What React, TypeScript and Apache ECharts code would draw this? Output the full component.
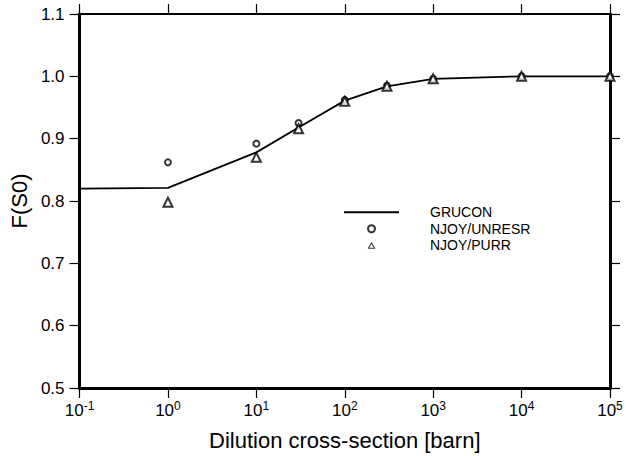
import React, { useEffect, useRef } from "react";
import * as echarts from "echarts";

const xGrucon = [0.1, 1, 10, 30, 100, 300, 1000, 10000, 100000];
const yGrucon = [0.82, 0.821, 0.878, 0.918, 0.961, 0.984, 0.996, 1.0, 1.0];
const xNjoy = [1, 10, 30, 100, 300, 1000, 10000, 100000];
const yUnresr = [0.862, 0.892, 0.925, 0.962, 0.985, 0.996, 1.0, 1.0];
const yPurr = [0.798, 0.870, 0.916, 0.960, 0.984, 0.996, 1.0, 1.0];
const yTicks = [0.5, 0.6, 0.7, 0.8, 0.9, 1.0, 1.1];
const legendNames = ["GRUCON", "NJOY/UNRESR", "NJOY/PURR"];

const FONT = "'Liberation Sans', Arial, sans-serif";

export default function App() {
  const ref = useRef<HTMLDivElement>(null);
  useEffect(() => {
    if (!ref.current) return;
    const chart = echarts.init(ref.current, null, { renderer: "svg" });
    const pow = (v: number) => Math.round(Math.log10(v));
    const xLabel = {
      show: true,
      margin: 12,
      color: "#000",
      fontFamily: FONT,
      fontSize: 17,
      formatter: (v: number) => `{b|10}{s|${pow(v)}}`,
      rich: {
        b: { fontSize: 17, fontFamily: FONT, color: "#000" },
        s: { fontSize: 12, fontFamily: FONT, color: "#000", padding: [0, 0, 9, 0] },
      },
    };
    const tick = { show: true, inside: false, length: 10, lineStyle: { color: "#000", width: 1.2 } };
    const option: any = {
      animation: false,
      backgroundColor: "#fff",
      textStyle: { fontFamily: FONT },
      grid: { left: 79, right: 16, top: 14, bottom: 65 },
      legend: {
        orient: "vertical",
        left: 344,
        top: 204,
        padding: 0,
        itemWidth: 55,
        itemHeight: 7,
        itemGap: 0,
        selectedMode: false,
        data: [
          { name: legendNames[0], icon: "path://M0,0H55V2H0Z", itemStyle: { color: "#000" } },
          { name: legendNames[1] },
          {
            name: legendNames[2],
            icon: "path://M5,0L10,9L0,9Z M5,2.68L2.2,7.7L7.8,7.7Z",
            itemStyle: { color: "#000", borderWidth: 0 },
          },
        ],
        textStyle: { fontSize: 14, color: "#000", fontFamily: FONT, padding: [0, 0, 0, 26], lineHeight: 16.5 },
      },
      xAxis: [
        {
          type: "log",
          logBase: 10,
          min: 0.1,
          max: 100000,
          position: "bottom",
          name: "Dilution cross-section [barn]",
          nameLocation: "middle",
          nameGap: 41,
          nameTextStyle: { fontSize: 22, color: "#000", fontFamily: FONT },
          axisLine: { show: true, lineStyle: { color: "#000", width: 3 } },
          axisTick: tick,
          minorTick: { show: false },
          splitLine: { show: false },
          axisLabel: xLabel,
        },
        {
          type: "log",
          logBase: 10,
          min: 0.1,
          max: 100000,
          position: "top",
          axisLine: { show: true, lineStyle: { color: "#000", width: 2 } },
          axisTick: tick,
          splitLine: { show: false },
          axisLabel: { show: false },
        },
      ],
      yAxis: [
        {
          type: "value",
          min: 0.5,
          max: 1.1,
          interval: 0.1,
          position: "left",
          name: "F(S0)",
          nameLocation: "middle",
          nameGap: 43,
          nameTextStyle: { fontSize: 22, color: "#000", fontFamily: FONT },
          axisLine: { show: true, lineStyle: { color: "#000", width: 3 } },
          axisTick: tick,
          splitLine: { show: false },
          axisLabel: {
            margin: 15,
            color: "#000",
            fontSize: 17,
            fontFamily: FONT,
            formatter: (v: number) => (yTicks.some((t) => Math.abs(t - v) < 1e-6) ? v.toFixed(1) : ""),
          },
        },
        {
          type: "value",
          min: 0.5,
          max: 1.1,
          interval: 0.1,
          position: "right",
          axisLine: { show: true, lineStyle: { color: "#000", width: 3 } },
          axisTick: tick,
          splitLine: { show: false },
          axisLabel: { show: false },
        },
      ],
      series: [
        {
          name: legendNames[0],
          type: "line",
          symbol: "none",
          data: xGrucon.map((x, i) => [x, yGrucon[i]]),
          lineStyle: { color: "#000", width: 1.8 },
          itemStyle: { color: "#000" },
          z: 2,
        },
        {
          name: legendNames[1],
          type: "scatter",
          symbol: "emptyCircle",
          symbolSize: 6,
          data: xNjoy.map((x, i) => [x, yUnresr[i]]),
          itemStyle: { color: "#000", borderColor: "#000", borderWidth: 1.1 },
          z: 3,
        },
        {
          name: legendNames[2],
          type: "scatter",
          symbol: "emptyTriangle",
          symbolSize: 9,
          data: xNjoy.map((x, i) => [x, yPurr[i]]),
          itemStyle: { color: "#000", borderColor: "#000", borderWidth: 1.2 },
          z: 4,
        },
      ],
    };
    chart.setOption(option);
    return () => chart.dispose();
  }, []);
  return <div ref={ref} style={{ width: 626, height: 456, position: "absolute", left: 0, top: 0 }} />;
}
